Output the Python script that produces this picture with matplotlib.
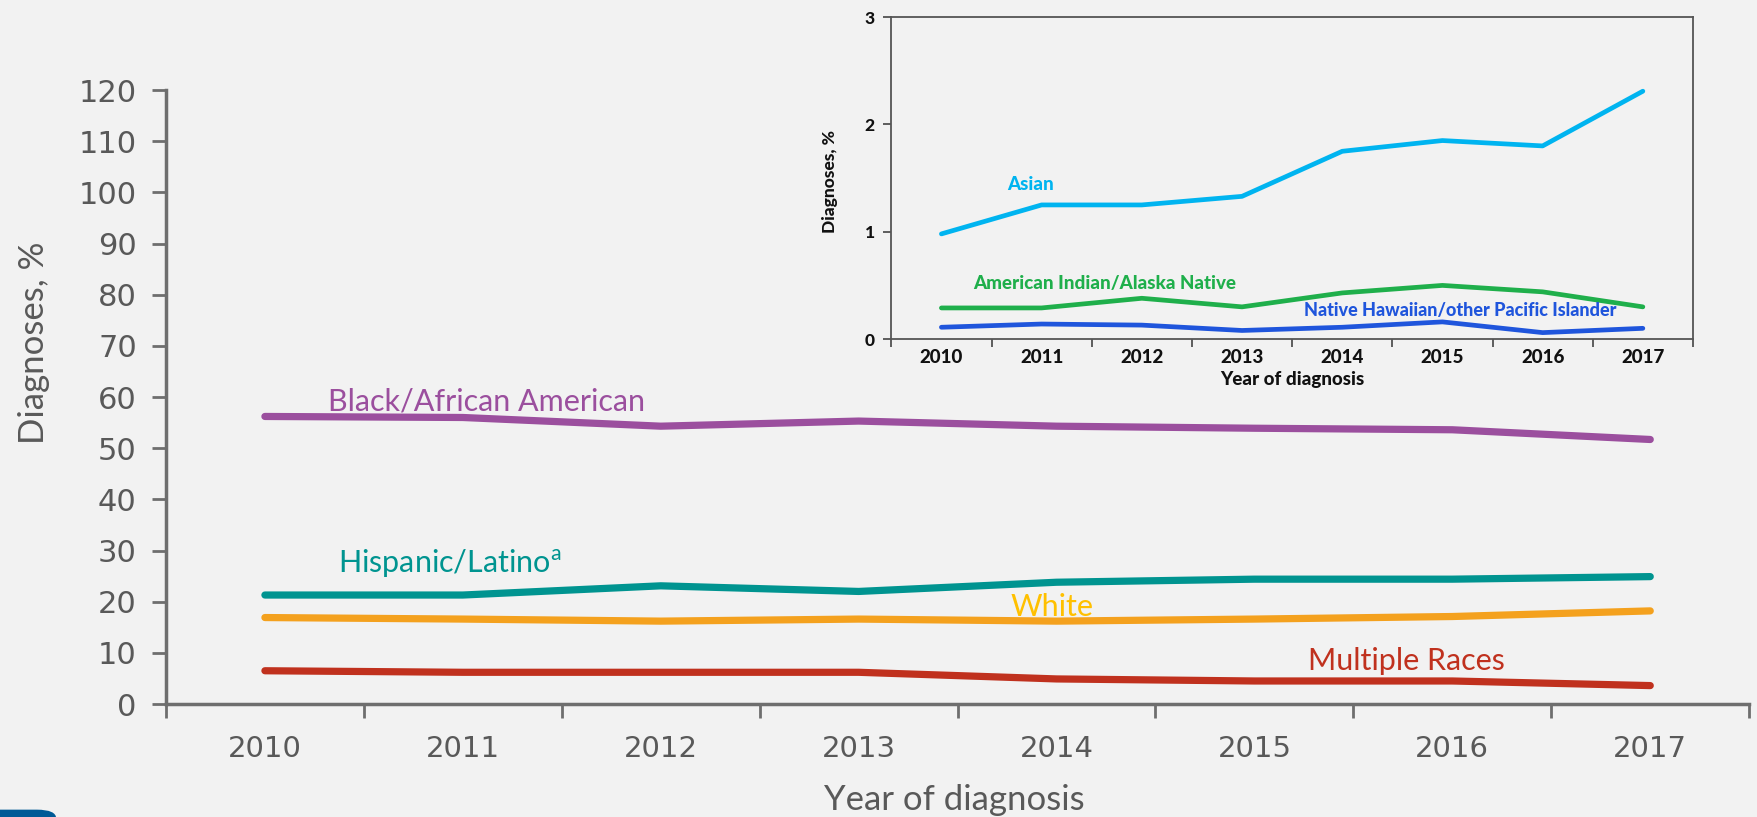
import matplotlib
matplotlib.use("Agg")
import matplotlib.pyplot as plt
from matplotlib.patches import FancyBboxPatch

years = [2010, 2011, 2012, 2013, 2014, 2015, 2016, 2017]
black = [56.2, 56.0, 54.3, 55.3, 54.3, 53.9, 53.6, 51.7]
hispanic = [21.3, 21.3, 23.1, 22.0, 23.8, 24.4, 24.4, 24.9]
white = [16.9, 16.6, 16.2, 16.6, 16.2, 16.6, 17.1, 18.2]
multiple = [6.5, 6.2, 6.2, 6.2, 4.9, 4.5, 4.5, 3.6]

asian = [0.98, 1.25, 1.25, 1.33, 1.75, 1.85, 1.80, 2.31]
aian = [0.29, 0.29, 0.38, 0.30, 0.43, 0.50, 0.44, 0.30]
nhopi = [0.11, 0.14, 0.13, 0.08, 0.11, 0.16, 0.06, 0.10]

main_yticks = list(range(0, 121, 10))
inset_yticks = [0, 1, 2, 3]

BG = "#F2F2F2"
AX = "#6E6E6E"
TXT = "#595959"

fig = plt.figure(figsize=(17.58, 8.17), dpi=100, facecolor=BG)

xs = list(range(len(years)))

# ---------------- main axes ----------------
ax = fig.add_axes([0.0944, 0.1383, 0.9006, 0.7515])
ax.set_facecolor(BG)
ax.plot(xs, black, color="#9B4F9E", lw=5.2, solid_capstyle="round")
ax.plot(xs, hispanic, color="#009490", lw=5.2, solid_capstyle="round")
ax.plot(xs, white, color="#F4A11E", lw=5.2, solid_capstyle="round")
ax.plot(xs, multiple, color="#C0311E", lw=5.2, solid_capstyle="round")
ax.set_xlim(-0.5, len(years) - 0.5)
ax.set_ylim(0, 120)
ax.set_yticks(main_yticks)
ax.set_yticklabels([str(v) for v in main_yticks], fontsize=22, color=TXT, family="DejaVu Sans")
ax.set_xticks(xs)
ax.set_xticklabels([str(y) for y in years], fontsize=21, color=TXT, family="DejaVu Sans")
ax.set_xticks([x - 0.5 for x in range(len(years) + 1)], minor=True)
ax.tick_params(axis="x", which="major", length=0, pad=22)
ax.tick_params(axis="x", which="minor", length=10, width=2, color=AX, direction="out")
ax.tick_params(axis="y", which="major", length=10, width=2, color=AX, pad=11)
for s in ["top", "right"]:
    ax.spines[s].set_visible(False)
for s in ["left", "bottom"]:
    ax.spines[s].set_color(AX)
    ax.spines[s].set_linewidth(2.5)
ax.set_ylabel("Diagnoses, %", fontsize=25, color=TXT, family="Lato")
ax.yaxis.set_label_coords(-0.073, 0.588)
ax.set_xlabel("Year of diagnosis", fontsize=25, color=TXT, family="Lato")
ax.xaxis.set_label_coords(0.498, -0.131)

lab_font = dict(fontsize=22, family="Lato", va="center", ha="left")
ax.text(0.32, 59.2, "Black/African American", color="#9B4F9E", **lab_font)
ax.text(0.37, 27.4, r"Hispanic/Latino$^{\mathregular{a}}$", color="#009490", **lab_font)
ax.text(3.77, 19.0, "White", color="#FFC000", **lab_font)
ax.text(5.27, 8.5, "Multiple Races", color="#C0311E", **lab_font)

# ---------------- inset axes ----------------
ins = fig.add_axes([0.507, 0.585, 0.456, 0.394])
ins.set_facecolor(BG)
ins.plot(xs, asian, color="#00B4F0", lw=3.4, solid_capstyle="round")
ins.plot(xs, aian, color="#1FAF4B", lw=3.4, solid_capstyle="round")
ins.plot(xs, nhopi, color="#1F55DC", lw=3.4, solid_capstyle="round")
ins.set_xlim(-0.5, len(years) - 0.5)
ins.set_ylim(0, 3)
ins.set_yticks(inset_yticks)
bold_font = "Lato"
ins.set_yticklabels([str(v) for v in inset_yticks], fontsize=12.5, fontweight="black",
                    family=bold_font, color="#111111")
ins.set_xticks(xs)
ins.set_xticklabels([str(y) for y in years], fontsize=13.5, fontweight="black",
                    family=bold_font, color="#111111")
ins.set_xticks([x - 0.5 for x in range(len(years) + 1)], minor=True)
ins.tick_params(axis="x", which="major", length=0, pad=7)
ins.tick_params(axis="x", which="minor", length=6, width=1.2, color="#444444")
ins.tick_params(axis="y", which="major", length=6, width=1.2, color="#444444", pad=6)
for s in ins.spines.values():
    s.set_color("#555555")
    s.set_linewidth(1.3)
ins.set_ylabel("Diagnoses, %", fontsize=12.5, fontweight="black", family=bold_font,
               color="#111111")
ins.yaxis.set_label_coords(-0.067, 0.49)
ins.set_xlabel("Year of diagnosis", fontsize=13.5, fontweight="black", family=bold_font,
               color="#111111")
ins.xaxis.set_label_coords(0.5, -0.1)

ilab = dict(fontsize=13.5, fontweight="black", family=bold_font, va="center", ha="left")
ins.text(0.66, 1.44, "Asian", color="#00B4F0", **ilab)
ins.text(0.32, 0.52, "American Indian/Alaska Native", color="#1FAF4B", **ilab)
ins.text(3.62, 0.27, "Native Hawaiian/other Pacific Islander", color="#1F55DC",
         fontsize=13, fontweight="black", family=bold_font, va="center", ha="left")

# bottom-left corner decoration
fig.patches.append(FancyBboxPatch((-0.02, -0.03), 0.052, 0.039,
                                  boxstyle="round,pad=0,rounding_size=0.011",
                                  transform=fig.transFigure, facecolor="#005A96",
                                  edgecolor="none"))

fig.savefig("out.png", dpi=100, facecolor=BG)
